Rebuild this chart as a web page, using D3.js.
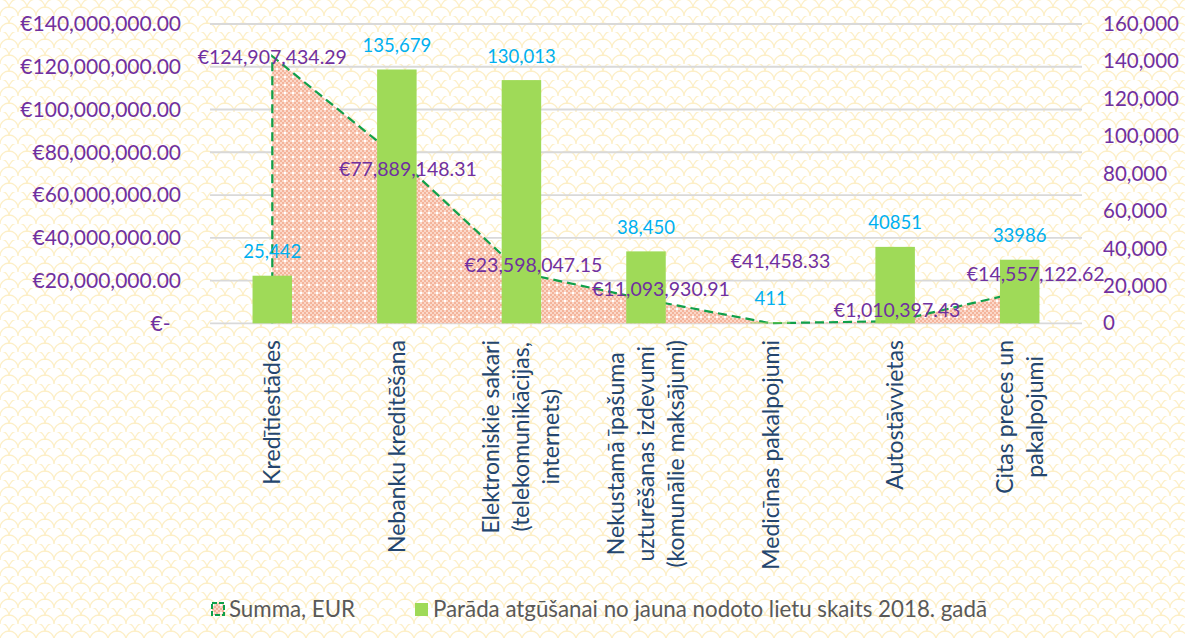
<!DOCTYPE html>
<html>
<head>
<meta charset="utf-8">
<script src="https://cdn.jsdelivr.net/npm/d3@7"></script>
<style>
  body { margin: 0; background: #fff; }
  text { font-family: Lato, "Open Sans", sans-serif; }
</style>
</head>
<body>
<script>
// categories, split into the lines shown under the axis
const categoryLines = [
    ["Kredītiestādes"],
    ["Nebanku kreditēšana"],
    ["Elektroniskie sakari", "(telekomunikācijas,", "internets)"],
    ["Nekustamā īpašuma", "uzturēšanas izdevumi", "(komunālie maksājumi)"],
    ["Medicīnas pakalpojumi"],
    ["Autostāvvietas"],
    ["Citas preces un", "pakalpojumi"]
];
const summaValues = [124907434.29, 77889148.31, 23598047.15, 11093930.91, 41458.33, 1010397.43, 14557122.62];
const caseCounts = [25442, 135679, 130013, 38450, 411, 40851, 33986];
const caseCountLabels = ["25,442", "135,679", "130,013", "38,450", "411", "40851", "33986"];
const leftTicks = [0, 20e6, 40e6, 60e6, 80e6, 100e6, 120e6, 140e6];
const rightTicks = [0, 20000, 40000, 60000, 80000, 100000, 120000, 140000, 160000];
const seriesNames = ["Summa, EUR", "Parāda atgūšanai no jauna nodoto lietu skaits 2018. gadā"];

const width = 1185, height = 638;
const purple = "#7030A0", cyan = "#00B0F0", green = "#9FDA58", lineGreen = "#10A04A";

const svg = d3.select("body").append("svg")
    .attr("width", width)
    .attr("height", height);

const defs = svg.append("defs");

// wavy cream background
const bg = defs.append("pattern").attr("id", "bg")
    .attr("patternUnits", "userSpaceOnUse").attr("width", 18).attr("height", 16);
bg.append("rect").attr("width", 18).attr("height", 16).attr("fill", "#fff");
bg.append("path")
    .attr("d", "M0,16 A9,9 0 0 1 18,16 M-9,8 A9,9 0 0 1 9,8 M9,8 A9,9 0 0 1 27,8")
    .attr("fill", "none").attr("stroke", "#FDEFC6").attr("stroke-width", 1.3);

// salmon dotted fill of the area
const dots = defs.append("pattern").attr("id", "dots")
    .attr("patternUnits", "userSpaceOnUse").attr("width", 8).attr("height", 8);
dots.append("rect").attr("width", 8).attr("height", 8).attr("fill", "#FBD8C9");
dots.append("path").attr("d", "M0,0h2v2h-2z M4,0h2v2h-2z M2,2h2v2h-2z M6,2h2v2h-2z M0,4h2v2h-2z M2,6h2v2h-2z M6,6h2v2h-2z")
    .attr("fill", "#F4B49B");
dots.append("rect").attr("x", 4).attr("y", 4).attr("width", 2).attr("height", 2).attr("fill", "#fff");

svg.append("rect").attr("width", width).attr("height", height).attr("fill", "url(#bg)");

const x = d3.scaleBand()
    .domain(d3.range(categoryLines.length))
    .range([210, 1082])
    .paddingInner(0.683)
    .paddingOuter(0.3415);
const cx = i => x(i) + x.bandwidth() / 2;

const yL = d3.scaleLinear().domain([0, 140e6]).range([323.3, 24]);
const yR = d3.scaleLinear().domain([0, 160000]).range([323.3, 24]);

// gridlines
svg.append("g").selectAll("line")
    .data(leftTicks)
    .join("line")
    .attr("x1", 210).attr("x2", 1082)
    .attr("y1", d => yL(d)).attr("y2", d => yL(d))
    .attr("stroke", "#D9D9D9").attr("stroke-width", 1.8);

// left axis
const leftAxis = svg.append("g")
    .attr("transform", "translate(181,0)")
    .call(d3.axisLeft(yL).tickValues(leftTicks).tickSize(0).tickPadding(0)
        .tickFormat(d => d === 0 ? "€-\u2002" : "€" + d3.format(",.2f")(d)));
leftAxis.select(".domain").remove();
leftAxis.selectAll("text")
    .attr("fill", purple).style("font-size", "21px").style("font-family", "Lato");

// right axis
const rightAxis = svg.append("g")
    .attr("transform", "translate(1103,0)")
    .call(d3.axisRight(yR).tickValues(rightTicks).tickSize(0).tickPadding(0)
        .tickFormat(d3.format(",")));
rightAxis.select(".domain").remove();
rightAxis.selectAll("text")
    .attr("fill", purple).style("font-size", "20.5px").style("font-family", "Lato");

// area for the sum
const area = d3.area()
    .x((d, i) => cx(i))
    .y0(yL(0))
    .y1(d => yL(d));
svg.append("path")
    .datum(summaValues)
    .attr("d", area)
    .attr("fill", "url(#dots)");

const outline = [[cx(0), yL(0)]]
    .concat(summaValues.map((d, i) => [cx(i), yL(d)]))
    .concat([[cx(summaValues.length - 1), yL(0)]]);
svg.append("path")
    .attr("d", d3.line()(outline))
    .attr("fill", "none")
    .attr("stroke", lineGreen)
    .attr("stroke-width", 2.2)
    .attr("stroke-dasharray", "9,5");

// bars
svg.append("g").selectAll("rect")
    .data(caseCounts)
    .join("rect")
    .attr("x", (d, i) => x(i))
    .attr("y", d => yR(d))
    .attr("width", x.bandwidth())
    .attr("height", d => yR(0) - yR(d))
    .attr("fill", green);

// bar value labels
svg.append("g").selectAll("text")
    .data(caseCounts)
    .join("text")
    .attr("x", (d, i) => cx(i))
    .attr("y", d => yR(d) - 24)
    .attr("dy", "0.35em")
    .attr("text-anchor", "middle")
    .attr("fill", cyan)
    .style("font-size", "18.5px")
    .text((d, i) => caseCountLabels[i]);

// sum labels, nudged like in the original
const sumLabelOffsets = [[0, 1], [11, 12], [12, -8], [15, -10], [10, -62], [2, -11], [16, -18]];
svg.append("g").selectAll("text")
    .data(summaValues)
    .join("text")
    .attr("x", (d, i) => cx(i) + sumLabelOffsets[i][0])
    .attr("y", (d, i) => yL(d) + sumLabelOffsets[i][1])
    .attr("dy", "0.35em")
    .attr("text-anchor", "middle")
    .attr("fill", purple)
    .style("font-size", "19.5px")
    .text(d => "€" + d3.format(",.2f")(d));

// rotated category labels
const lineHeight = 30;
categoryLines.forEach((lines, i) => {
    const g = svg.append("g")
        .attr("transform", `translate(${cx(i)},340) rotate(-90)`);
    const texts = g.selectAll("text")
        .data(lines)
        .join("text")
        .attr("text-anchor", "middle")
        .attr("dy", "0.35em")
        .attr("y", (d, j) => (j - (lines.length - 1) / 2) * lineHeight)
        .attr("fill", "#24466F")
        .style("font-size", "23px")
        .text(d => d);
    const maxW = d3.max(texts.nodes(), n => n.getComputedTextLength());
    texts.attr("x", -maxW / 2);
});

// legend
const legend = svg.append("g").style("font-size", "22.3px");
legend.append("rect")
    .attr("x", 212).attr("y", 603).attr("width", 12).attr("height", 12)
    .attr("fill", "url(#dots)")
    .attr("stroke", lineGreen).attr("stroke-width", 2).attr("stroke-dasharray", "5,2");
legend.append("text")
    .attr("x", 229).attr("y", 609).attr("dy", "0.35em")
    .attr("fill", "#595959")
    .text(seriesNames[0]);
legend.append("rect")
    .attr("x", 415).attr("y", 603).attr("width", 13).attr("height", 13)
    .attr("fill", green);
legend.append("text")
    .attr("x", 433).attr("y", 609).attr("dy", "0.35em")
    .attr("fill", "#595959")
    .text(seriesNames[1]);
</script>
</body>
</html>
